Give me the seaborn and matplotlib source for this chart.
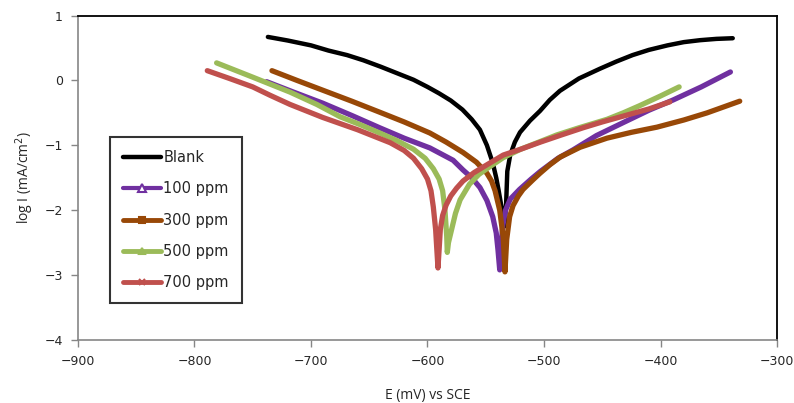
import matplotlib
matplotlib.use("Agg")
import matplotlib.pyplot as plt
import seaborn as sns
import pandas as pd
from matplotlib.lines import Line2D

# ---- data (E in mV vs SCE, log I in mA/cm2) ----
blank_E = [-737, -720, -700, -685, -669, -655, -640, -626, -612, -600, -590, -580, -570,
           -562, -555, -549, -544, -541, -539, -536, -534,
           -532.5, -531.5, -529, -525, -520.6, -512, -503.4, -495, -486.3, -470, -452,
           -438, -424, -410, -394, -380, -366, -352, -338]
blank_I = [0.67, 0.615, 0.54, 0.46, 0.39, 0.31, 0.21, 0.11, 0.01, -0.10, -0.20, -0.31, -0.45,
           -0.60, -0.76, -1.00, -1.27, -1.50, -1.69, -2.00, -2.25,
           -1.90, -1.40, -1.15, -0.95, -0.80, -0.62, -0.47, -0.30, -0.16, 0.03, 0.18,
           0.29, 0.39, 0.47, 0.54, 0.59, 0.62, 0.64, 0.65]

p100_E = [-738, -715, -690, -665, -641, -620, -598, -578, -569.5, -562, -555, -549, -544,
          -541, -539.5, -538,
          -537, -535.5, -533, -529, -521, -511, -503, -488, -475, -455, -432, -410, -389,
          -365, -340]
p100_I = [-0.02, -0.18, -0.35, -0.54, -0.73, -0.89, -1.04, -1.23, -1.38, -1.50, -1.65, -1.85,
          -2.10, -2.35, -2.61, -2.92,
          -2.60, -2.25, -2.00, -1.83, -1.68, -1.52, -1.40, -1.20, -1.07, -0.85, -0.65, -0.46,
          -0.30, -0.10, 0.13]

p300_E = [-733.5, -712, -690, -665, -641, -620, -598, -584, -569.5, -558, -549, -545, -542,
          -538, -535, -533.5,
          -532, -529.5, -526.6, -522, -518, -509.4, -503.4, -495, -486, -469, -446, -425,
          -403, -380, -360, -332]
p300_I = [0.15, 0.0, -0.15, -0.32, -0.49, -0.64, -0.81, -0.95, -1.11, -1.26, -1.43, -1.55,
          -1.70, -2.00, -2.42, -2.95,
          -2.45, -2.10, -1.93, -1.78, -1.68, -1.53, -1.43, -1.30, -1.18, -1.03, -0.89, -0.80,
          -0.72, -0.61, -0.50, -0.32]

p500_E = [-781, -750, -718, -695, -675, -658, -641, -626, -612, -602, -595, -590, -587,
          -585, -583.5, -583,
          -582, -580, -576, -572, -564, -556, -549, -535, -520, -503, -489, -470, -446,
          -432, -418, -400, -384]
p500_I = [0.27, 0.05, -0.18, -0.37, -0.56, -0.68, -0.81, -0.93, -1.06, -1.20, -1.36, -1.52,
          -1.70, -2.00, -2.40, -2.65,
          -2.50, -2.35, -2.05, -1.84, -1.60, -1.45, -1.36, -1.19, -1.06, -0.94, -0.84, -0.73,
          -0.60, -0.50, -0.39, -0.24, -0.10]

p700_E = [-789, -770, -750, -735, -718, -690, -660, -632, -620, -612, -605, -600, -597,
          -595, -593, -592, -591,
          -590, -589, -587, -584, -580, -575, -569.5, -560, -549, -535, -520, -503, -485,
          -466.5, -450, -432, -410, -392]
p700_I = [0.15, 0.03, -0.10, -0.23, -0.37, -0.57, -0.76, -0.96, -1.08, -1.20, -1.36, -1.52,
          -1.70, -1.95, -2.30, -2.60, -2.89,
          -2.60, -2.30, -2.08, -1.92, -1.78, -1.66, -1.55, -1.42, -1.30, -1.15, -1.06, -0.95,
          -0.84, -0.73, -0.64, -0.55, -0.44, -0.33]

labels = ["Blank", "100 ppm", "300 ppm", "500 ppm", "700 ppm"]
colors = ["#000000", "#7030A0", "#984807", "#9BBB59", "#C0504D"]
series = [(blank_E, blank_I), (p100_E, p100_I), (p300_E, p300_I),
          (p500_E, p500_I), (p700_E, p700_I)]
markers = [None, "^", "s", "^", "x"]

x_ticks = [-900, -800, -700, -600, -500, -400, -300]
y_ticks = [-4, -3, -2, -1, 0, 1]

sns.set_theme(style="white")
plt.rcParams["font.family"] = ["DejaVu Sans"]

fig = plt.figure(figsize=(7.94, 4.03), dpi=100)
ax = fig.add_axes([0.0982, 0.1563, 0.8804, 0.8052])

for (E, I), lab, col in zip(series, labels, colors):
    df = pd.DataFrame({"E": E, "logI": I})
    lw = 3.2 if lab == "Blank" else 3.8
    sns.lineplot(data=df, x="E", y="logI", sort=False, estimator=None, ax=ax,
                 color=col, linewidth=lw, legend=False)
for line in ax.lines:
    line.set_solid_joinstyle("round")
    line.set_solid_capstyle("round")

ax.set_xlim(-900, -300)
ax.set_ylim(-4, 1)
ax.set_xticks(x_ticks)
ax.set_yticks(y_ticks)
ax.tick_params(axis="both", which="both", direction="out", length=5, width=1,
               color="#868686", labelsize=9, pad=6, left=True, bottom=True)
for s in ["left", "bottom"]:
    ax.spines[s].set_color("#868686")
    ax.spines[s].set_linewidth(1.2)
for s in ["top", "right"]:
    ax.spines[s].set_color("black")
    ax.spines[s].set_linewidth(1.3)

ax.set_xlabel("E (mV) vs SCE", fontsize=10, family=["Open Sans", "DejaVu Sans"], labelpad=14)
ax.set_ylabel("log I (mA/cm$^{2}$)", fontsize=10, family=["Open Sans", "DejaVu Sans"], labelpad=6)

handles = []
for lab, col, mk in zip(labels, colors, markers):
    if mk is None:
        h = Line2D([], [], color=col, lw=3.2)
    elif mk == "^" and lab == "100 ppm":
        h = Line2D([], [], color=col, lw=3, marker=mk, markersize=6,
                   markerfacecolor="white", markeredgecolor=col, markeredgewidth=1.5)
    else:
        h = Line2D([], [], color=col, lw=3.5, marker=mk, markersize=4,
                   markeredgewidth=1.5)
    handles.append(h)

leg = ax.legend(handles, labels, loc="upper left", bbox_to_anchor=(0.046, 0.626),
                frameon=True, fancybox=False, edgecolor="black",
                handlelength=2.6, handletextpad=0.15, labelspacing=1.12,
                borderpad=0.9, borderaxespad=0, prop={"family": "DejaVu Sans", "size": 10.5})
leg.get_frame().set_linewidth(1.5)

fig.savefig("out.png", dpi=100)
